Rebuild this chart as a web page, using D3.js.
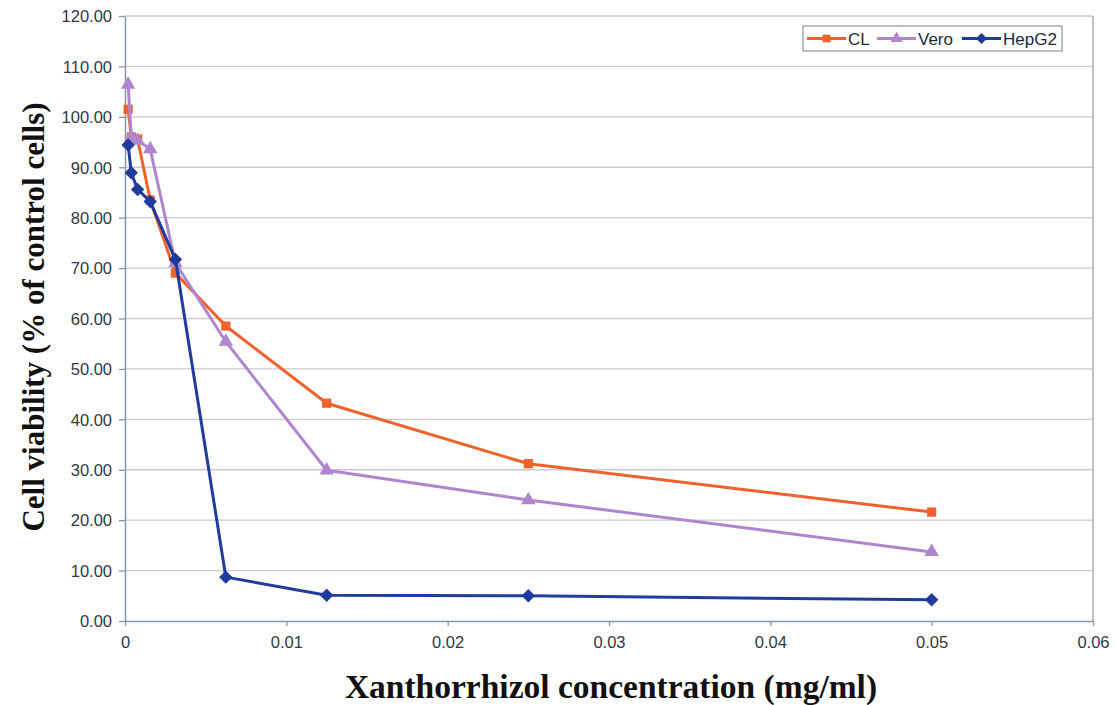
<!DOCTYPE html>
<html>
<head>
<meta charset="utf-8">
<script src="https://cdn.jsdelivr.net/npm/d3@7"></script>
<style>
  body { margin: 0; background: #fff; }
  svg { display: block; }
</style>
</head>
<body>
<script>
// two-fold dilution series (mg/ml)
var concentrations = [0.0001953125, 0.000390625, 0.00078125, 0.0015625, 0.003125, 0.00625, 0.0125, 0.025, 0.05];

var clValues    = [101.5, 96.0, 95.6, 83.5, 69.0, 58.5, 43.2, 31.2, 21.6];
var veroValues  = [106.4, 96.0, 95.3, 93.6, 71.0, 55.4, 29.9, 24.0, 13.7];
var hepg2Values = [94.4, 88.9, 85.6, 83.2, 71.7, 8.7, 5.1, 5.0, 4.2];

var seriesNames = ['CL', 'Vero', 'HepG2'];
var xTicks = [0, 0.01, 0.02, 0.03, 0.04, 0.05, 0.06];
var yTicks = [0, 10, 20, 30, 40, 50, 60, 70, 80, 90, 100, 110, 120];

var width = 1116,
    height = 705,
    margin = { top: 16, right: 23, bottom: 84, left: 125 };

// diamond drawn as a square turned 45 degrees (wider than d3.symbolDiamond)
var wideDiamond = {
  draw: function(ctx, size) {
    var r = Math.sqrt(size) / 2 * Math.SQRT2;
    ctx.moveTo(0, -r); ctx.lineTo(r, 0); ctx.lineTo(0, r); ctx.lineTo(-r, 0); ctx.closePath();
  }
};

var series = [
  { name: seriesNames[0], values: clValues, color: '#f0622c', symbol: d3.symbolSquare, size: 85 },
  { name: seriesNames[1], values: veroValues, color: '#b184cf', symbol: d3.symbolTriangle, size: 90 },
  { name: seriesNames[2], values: hepg2Values, color: '#1f3c9c', symbol: wideDiamond, size: 90 }
];

var svg = d3.select('body').append('svg')
  .attr('width', width)
  .attr('height', height);

var x = d3.scaleLinear().domain([0, 0.06]).range([margin.left, width - margin.right]);
var y = d3.scaleLinear().domain([0, 120]).range([height - margin.bottom, margin.top]);

// grid lines
svg.append('g')
  .selectAll('line')
  .data(yTicks.slice(1))
  .enter()
  .append('line')
  .attr('x1', x(0))
  .attr('x2', x(0.06))
  .attr('y1', function(d) { return y(d); })
  .attr('y2', function(d) { return y(d); })
  .attr('stroke', '#c9cdd0')
  .attr('stroke-width', 1.3);

// right border
svg.append('line')
  .attr('x1', x(0.06)).attr('x2', x(0.06))
  .attr('y1', y(120)).attr('y2', y(0))
  .attr('stroke', '#9aa5ad')
  .attr('stroke-width', 1.3);

var xAxis = svg.append('g')
  .attr('transform', 'translate(0,' + y(0) + ')')
  .call(d3.axisBottom(x).tickValues(xTicks).tickSize(5).tickSizeOuter(0)
    .tickFormat(function(d) { return d === 0 ? '0' : d3.format('.2f')(d); }));

var yAxis = svg.append('g')
  .attr('transform', 'translate(' + x(0) + ',0)')
  .call(d3.axisLeft(y).tickValues(yTicks).tickSize(6).tickSizeOuter(0).tickFormat(d3.format('.2f')));

[xAxis, yAxis].forEach(function(a) {
  a.select('.domain').attr('stroke', '#8a969e').attr('stroke-width', 1.5);
  a.selectAll('.tick line').attr('stroke', '#8a969e').attr('stroke-width', 1.3);
  a.selectAll('text')
    .attr('font-family', 'Liberation Sans, Arial, sans-serif')
    .attr('font-size', '16.5px')
    .attr('fill', '#323844');
});
xAxis.selectAll('text').attr('dy', '1.15em');
yAxis.selectAll('text').attr('x', -13).attr('dy', '0.35em');

var line = d3.line()
  .x(function(d) { return x(d[0]); })
  .y(function(d) { return y(d[1]); });

series.forEach(function(s) {
  var pts = concentrations.map(function(c, i) { return [c, s.values[i]]; });
  var g = svg.append('g');
  g.append('path')
    .datum(pts)
    .attr('d', line)
    .attr('fill', 'none')
    .attr('stroke', s.color)
    .attr('stroke-width', 3)
    .attr('stroke-linejoin', 'round');
  g.selectAll('path.pt')
    .data(pts)
    .enter()
    .append('path')
    .attr('class', 'pt')
    .attr('d', d3.symbol().type(s.symbol).size(s.size))
    .attr('transform', function(d) { return 'translate(' + x(d[0]) + ',' + y(d[1]) + ')'; })
    .attr('fill', s.color);
});

// legend
var legend = svg.append('g').attr('transform', 'translate(803,26)');
legend.append('rect')
  .attr('width', 259)
  .attr('height', 25)
  .attr('fill', '#fff')
  .attr('stroke', '#8a969e')
  .attr('stroke-width', 1.2);

var legendX = [4, 74, 159];
series.forEach(function(s, i) {
  var lg = legend.append('g').attr('transform', 'translate(' + legendX[i] + ',12.5)');
  lg.append('line')
    .attr('x1', 0).attr('x2', 39)
    .attr('stroke', s.color)
    .attr('stroke-width', 3);
  lg.append('path')
    .attr('d', d3.symbol().type(s.symbol).size(s.size * 0.7))
    .attr('transform', 'translate(19.5,0)')
    .attr('fill', s.color);
  lg.append('text')
    .attr('x', 41)
    .attr('dy', '0.36em')
    .attr('font-family', 'Liberation Sans, Arial, sans-serif')
    .attr('font-size', '17px')
    .attr('fill', '#1e2a3a')
    .text(s.name);
});

// axis titles
svg.append('text')
  .attr('x', 611)
  .attr('y', 698)
  .attr('text-anchor', 'middle')
  .attr('font-family', 'Liberation Serif, Times New Roman, serif')
  .attr('font-weight', 'bold')
  .attr('font-size', '33.5px')
  .attr('fill', '#111')
  .text('Xanthorrhizol concentration (mg/ml)');

svg.append('text')
  .attr('transform', 'translate(44,317) rotate(-90)')
  .attr('text-anchor', 'middle')
  .attr('font-family', 'Liberation Serif, Times New Roman, serif')
  .attr('font-weight', 'bold')
  .attr('font-size', '31px')
  .attr('fill', '#111')
  .text('Cell viability (% of control cells)');
</script>
</body>
</html>
